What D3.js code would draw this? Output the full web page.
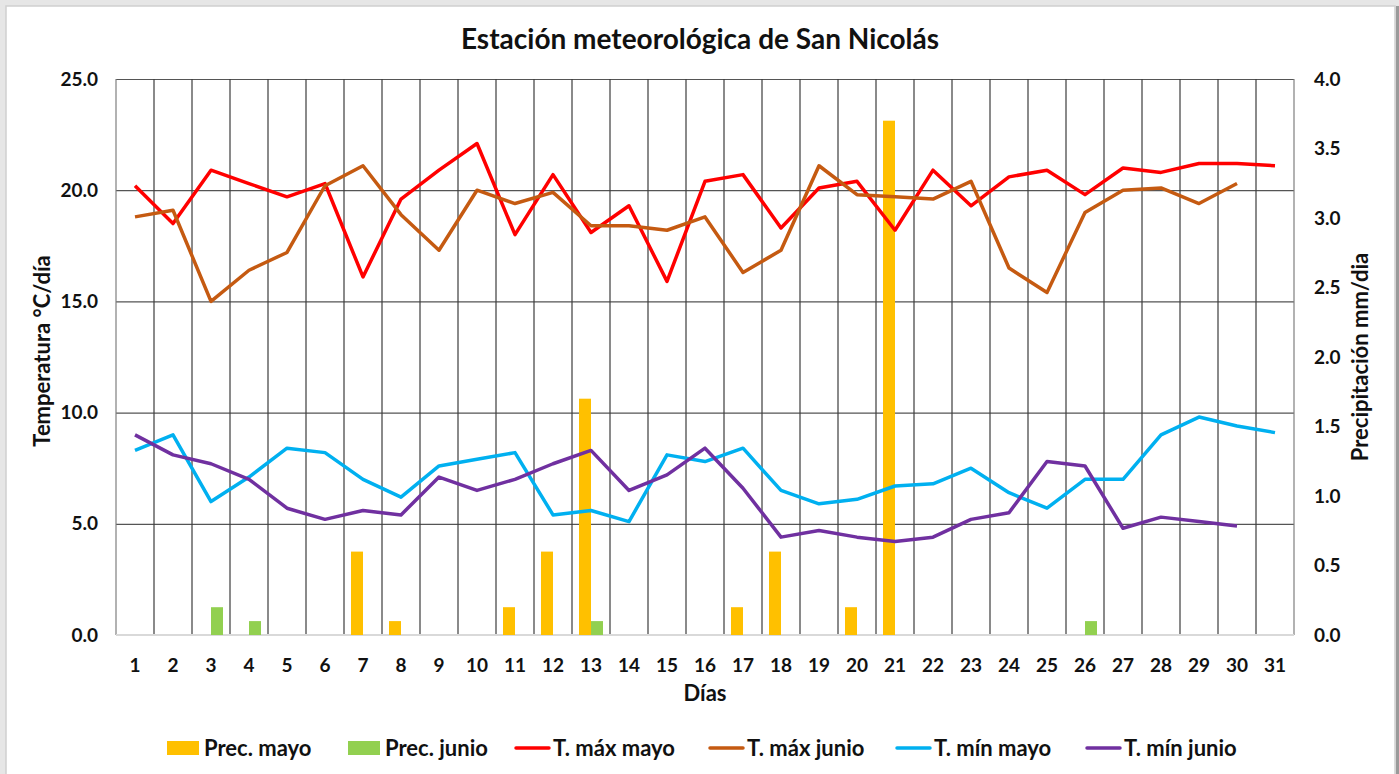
<!DOCTYPE html>
<html lang="es">
<head>
<meta charset="utf-8">
<title>Estación meteorológica de San Nicolás</title>
<script src="https://cdn.jsdelivr.net/npm/d3@7"></script>
<style>
  html, body { margin: 0; padding: 0; background: #e6e6e6; }
  svg { display: block; font-family: Lato, "Open Sans", sans-serif; font-weight: bold; }
</style>
</head>
<body>
<svg id="chart" width="1399" height="774"></svg>
<script>
/** data */
var days = d3.range(1, 32).map(String);
var precMayo  = [0,0,0,0,0,0,0.6,0.1,0,0,0.2,0.6,1.7,0,0,0,0.2,0.6,0,0.2,3.7,0,0,0,0,0,0,0,0,0,0];
var precJunio = [0,0,0.2,0.1,0,0,0,0,0,0,0,0,0.1,0,0,0,0,0,0,0,0,0,0,0,0,0.1,0,0,0,0,0];
var tMaxMayo  = [20.2,18.5,20.9,20.3,19.7,20.3,16.1,19.6,20.9,22.1,18.0,20.7,18.1,19.3,15.9,20.4,20.7,18.3,20.1,20.4,18.2,20.9,19.3,20.6,20.9,19.8,21.0,20.8,21.2,21.2,21.1];
var tMaxJunio = [18.8,19.1,15.0,16.4,17.2,20.2,21.1,18.9,17.3,20.0,19.4,19.9,18.4,18.4,18.2,18.8,16.3,17.3,21.1,19.8,19.7,19.6,20.4,16.5,15.4,19.0,20.0,20.1,19.4,20.3,null];
var tMinMayo  = [8.3,9.0,6.0,7.1,8.4,8.2,7.0,6.2,7.6,7.9,8.2,5.4,5.6,5.1,8.1,7.8,8.4,6.5,5.9,6.1,6.7,6.8,7.5,6.4,5.7,7.0,7.0,9.0,9.8,9.4,9.1];
var tMinJunio = [9.0,8.1,7.7,7.0,5.7,5.2,5.6,5.4,7.1,6.5,7.0,7.7,8.3,6.5,7.2,8.4,6.6,4.4,4.7,4.4,4.2,4.4,5.2,5.5,7.8,7.6,4.8,5.3,5.1,4.9,null];
var tempTicks = [0, 5, 10, 15, 20, 25];
var precTicks = [0, 0.5, 1, 1.5, 2, 2.5, 3, 3.5, 4];

var lineSeries = [
    {name: "T. máx mayo",  values: tMaxMayo,  color: "#FF0000"},
    {name: "T. máx junio", values: tMaxJunio, color: "#C55A11"},
    {name: "T. mín mayo",  values: tMinMayo,  color: "#00B0F0"},
    {name: "T. mín junio", values: tMinJunio, color: "#7030A0"}
];
var barSeries = [
    {name: "Prec. mayo",  values: precMayo,  color: "#FFC000"},
    {name: "Prec. junio", values: precJunio, color: "#92D050"}
];

var svg = d3.select("#chart");
var plotLeft = 116, plotRight = 1294, plotTop = 79, plotBottom = 635;

var x = d3.scaleBand().domain(days).range([plotLeft, plotRight]).padding(0);
var yT = d3.scaleLinear().domain([0, 25]).range([plotBottom, plotTop]);
var yP = d3.scaleLinear().domain([0, 4]).range([plotBottom, plotTop]);
var bw = x.bandwidth();
var barW = 12;

/** white panel with a thin frame */
svg.append("rect").attr("x", 6).attr("y", 6).attr("width", 1389).attr("height", 780)
   .attr("fill", "#fff").attr("stroke", "#d0d0d0").attr("stroke-width", 1.5);
svg.append("rect").attr("x", 1396).attr("y", 6).attr("width", 3).attr("height", 774).attr("fill", "#9a9a9a");

/** title */
svg.append("text").attr("x", 700).attr("y", 49).attr("text-anchor", "middle")
   .attr("font-size", 28).attr("fill", "#111").text("Estación meteorológica de San Nicolás");

/** horizontal grid */
svg.append("g").attr("transform", "translate(" + plotLeft + ",0)")
   .call(d3.axisLeft(yT).tickValues(tempTicks.slice(1)).tickSize(-(plotRight - plotLeft)).tickFormat(""))
   .call(g => g.select(".domain").remove())
   .call(g => g.selectAll("line").attr("stroke", "#555").attr("stroke-width", 1.2));

/** vertical grid at the day boundaries */
svg.append("g").selectAll("line")
   .data(days.concat(["end"]))
   .enter().append("line")
   .attr("x1", d => d === "end" ? plotRight : x(d))
   .attr("x2", d => d === "end" ? plotRight : x(d))
   .attr("y1", plotTop).attr("y2", plotBottom)
   .attr("stroke", (d, i) => (i === 0 || d === "end") ? "#7f7f7f" : "#3c3c3c").attr("stroke-width", 1.2);

/** baseline */
svg.append("line").attr("x1", plotLeft).attr("x2", plotRight).attr("y1", plotBottom).attr("y2", plotBottom)
   .attr("stroke", "#d9d9d9").attr("stroke-width", 2);

/** precipitation bars */
barSeries.forEach(function(s, k) {
    svg.append("g").selectAll("rect")
       .data(s.values)
       .enter().append("rect")
       .attr("x", (d, i) => x(days[i]) + bw / 2 - barW + k * barW)
       .attr("y", d => yP(d))
       .attr("width", barW)
       .attr("height", d => plotBottom - yP(d))
       .attr("fill", s.color);
});

/** temperature lines */
var line = d3.line()
    .defined(d => d != null)
    .x((d, i) => x(days[i]) + bw / 2)
    .y(d => yT(d));
lineSeries.forEach(function(s) {
    svg.append("path").datum(s.values)
       .attr("d", line)
       .attr("fill", "none")
       .attr("stroke", s.color)
       .attr("stroke-width", 3.5)
       .attr("stroke-linejoin", "round");
});

/** axes labels */
svg.append("g").attr("transform", "translate(" + (plotLeft - 18) + ",0)")
   .call(d3.axisLeft(yT).tickValues(tempTicks).tickSize(0).tickFormat(d3.format(".1f")))
   .call(g => g.select(".domain").remove())
   .call(g => g.selectAll("text").attr("x", 0).attr("font-size", 19).attr("font-family", "Lato").attr("font-weight", "bold").attr("fill", "#111"));

svg.append("g").attr("transform", "translate(" + (plotRight + 20) + ",0)")
   .call(d3.axisRight(yP).tickValues(precTicks).tickSize(0).tickFormat(d3.format(".1f")))
   .call(g => g.select(".domain").remove())
   .call(g => g.selectAll("text").attr("x", 0).attr("font-size", 19).attr("font-family", "Lato").attr("font-weight", "bold").attr("fill", "#111"));

svg.append("g").attr("transform", "translate(0," + (plotBottom + 20) + ")")
   .call(d3.axisBottom(x).tickSize(0))
   .call(g => g.select(".domain").remove())
   .call(g => g.selectAll("text").attr("font-size", 19).attr("font-family", "Lato").attr("font-weight", "bold").attr("fill", "#111"));

svg.append("text").attr("x", 705).attr("y", 701).attr("text-anchor", "middle")
   .attr("font-size", 22).attr("fill", "#111").text("Días");

svg.append("text").attr("transform", "translate(50,351) rotate(-90)").attr("text-anchor", "middle")
   .attr("font-size", 22).attr("fill", "#111").text("Temperatura °C/día");

svg.append("text").attr("transform", "translate(1368,357) rotate(-90)").attr("text-anchor", "middle")
   .attr("font-size", 22).attr("fill", "#111").text("Precipitación mm/dia");

/** legend */
var legendItems = barSeries.map(s => ({name: s.name, color: s.color, type: "bar"}))
    .concat(lineSeries.map(s => ({name: s.name, color: s.color, type: "line"})));
var legendX = [167, 348, 515, 709, 896, 1086];
var lg = svg.append("g").selectAll("g")
    .data(legendItems)
    .enter().append("g")
    .attr("transform", (d, i) => "translate(" + legendX[i] + ",748)");
lg.filter(d => d.type === "bar").append("rect")
    .attr("x", 0).attr("y", -7).attr("width", 32).attr("height", 14).attr("fill", d => d.color);
lg.filter(d => d.type === "line").append("line")
    .attr("x1", 1).attr("x2", 34).attr("y1", 0).attr("y2", 0)
    .attr("stroke", d => d.color).attr("stroke-width", 3.5).attr("stroke-linecap", "round");
lg.append("text").attr("x", d => d.type === "bar" ? 37 : 38).attr("y", 8)
    .attr("font-size", 22).attr("fill", "#111").text(d => d.name);
</script>
</body>
</html>
